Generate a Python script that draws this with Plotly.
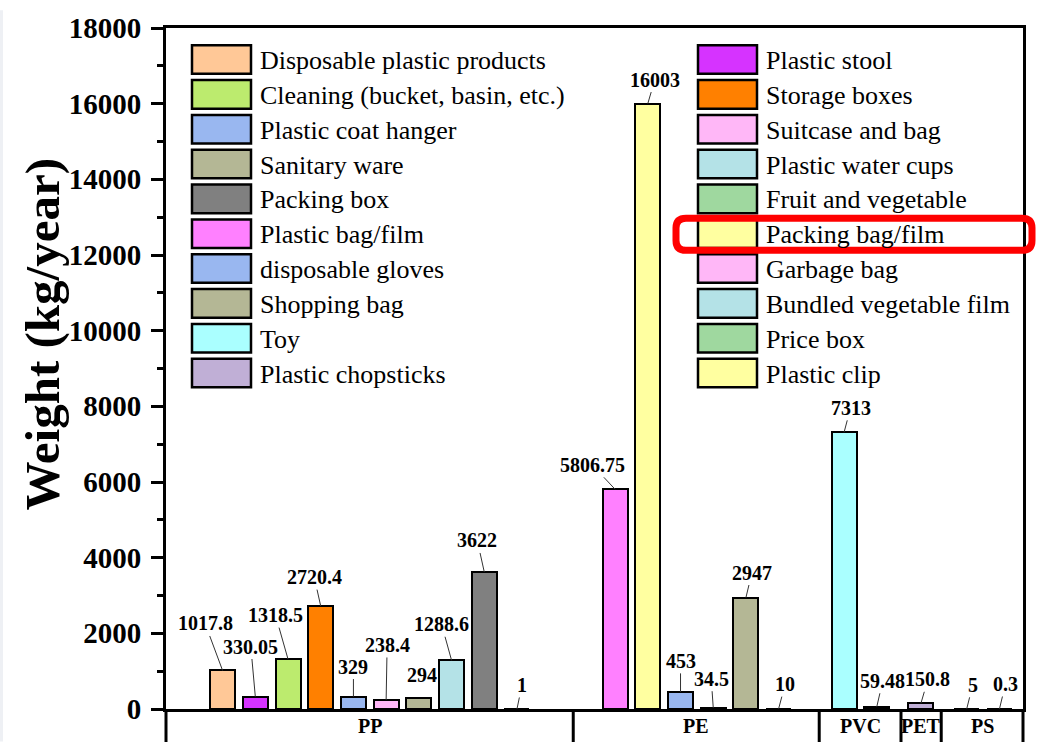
import plotly.graph_objects as go

# ---------------- data ----------------
categories = [
    "Disposable plastic products", "Plastic stool", "Cleaning (bucket, basin, etc.)",
    "Storage boxes", "Plastic coat hanger", "Suitcase and bag", "Sanitary ware",
    "Plastic water cups", "Packing box", "Fruit and vegetable",
    "Plastic bag/film", "Packing bag/film", "disposable gloves", "Garbage bag",
    "Shopping bag", "Bundled vegetable film",
    "Toy", "Price box",
    "Plastic chopsticks",
    "PS item", "Plastic clip",
]
groups = ["PP"] * 10 + ["PE"] * 6 + ["PVC"] * 2 + ["PET"] + ["PS"] * 2
weights = [1017.8, 330.05, 1318.5, 2720.4, 329, 238.4, 294, 1288.6, 3622, 1,
           5806.75, 16003, 453, 34.5, 2947, 10,
           7313, 59.48,
           150.8,
           5, 0.3]
group_names = ["PP", "PE", "PVC", "PET", "PS"]
legend_items = [c for c in categories if c != "PS item"]
y_ticks = list(range(0, 18001, 2000))
y_ticktext = [str(v) for v in y_ticks]

# ---------------- style / layout ----------------
colors = {
    "Disposable plastic products": "#FFC897",
    "Plastic stool": "#D633FF",
    "Cleaning (bucket, basin, etc.)": "#BCEB6E",
    "Storage boxes": "#FF8000",
    "Plastic coat hanger": "#99B7F0",
    "Suitcase and bag": "#FFB7F7",
    "Sanitary ware": "#B4B795",
    "Plastic water cups": "#B4E2E7",
    "Packing box": "#808080",
    "Fruit and vegetable": "#9FD89F",
    "Plastic bag/film": "#FF80FF",
    "Packing bag/film": "#FFFFA0",
    "disposable gloves": "#99B7F0",
    "Garbage bag": "#FFB7F7",
    "Shopping bag": "#B4B795",
    "Bundled vegetable film": "#B4E2E7",
    "Toy": "#AAFFFF",
    "Price box": "#9FD89F",
    "Plastic chopsticks": "#C0AFD6",
    "PS item": "#FFFFFF",
    "Plastic clip": "#FFFFA0",
}
# bar slot positions along the x axis
bar_pos = [0, 1, 2, 3, 4, 5, 6, 7, 8, 9,
           12, 13, 14, 15, 16, 17,
           19, 20,
           21.35,
           22.75, 23.75]
group_bounds = [-1.73, 10.72, 18.24, 20.74, 21.97, 24.47]
XMIN, XMAX = group_bounds[0], group_bounds[-1]
# value-label offsets (pixels) relative to bar top
label_offsets = [(-17.5, -47), (-4.5, -50), (-12.5, -44), (-6.5, -29), (0, -30),
                 (1, -55), (3, -23), (-10, -36), (-7, -31.5), (5, -24),
                 (-23, -24.5), (7, -24), (0, -31), (-2, -29), (6, -25), (6.5, -24.5),
                 (6.5, -24.5), (6, -26),
                 (7, -24),
                 (6, -24), (6, -25)]
no_leader = {6}

W, H = 1043, 742
L, R, T, B = 166, 1023, 18, 709
SERIF = "Liberation Serif"


def px(X):
    return (X - L) / (R - L)


def py(Y):
    return (B - Y) / (B - T)


def xpaper(v):
    return (v - XMIN) / (XMAX - XMIN)


fig = go.Figure()
fig.add_trace(go.Bar(
    x=bar_pos, y=weights, width=0.765,
    marker=dict(color=[colors[c] for c in categories],
                line=dict(color="black", width=2)),
    hovertext=categories, showlegend=False,
))

shapes = []
annotations = []

# value labels with leader lines
for xp, v, (ax, ay), i in zip(bar_pos, weights, label_offsets, range(len(weights))):
    annotations.append(dict(
        x=xp, y=v, xref="x", yref="y", text=f"{v:g}",
        showarrow=True, arrowhead=0, arrowwidth=1,
        arrowcolor="rgba(0,0,0,0)" if i in no_leader else "#333333",
        ax=ax, ay=ay, standoff=0,
        font=dict(family=SERIF, size=20, color="black", weight="bold"),
    ))

# group category band below the axis
for b in group_bounds:
    shapes.append(dict(type="line", xref="paper", yref="paper",
                       x0=xpaper(b), x1=xpaper(b), y0=0, y1=py(H + 5),
                       line=dict(color="black", width=3)))
for g, a, b in zip(group_names, group_bounds[:-1], group_bounds[1:]):
    annotations.append(dict(
        x=xpaper((a + b) / 2), y=py(726.5), xref="paper", yref="paper",
        text=g, showarrow=False, xanchor="center", yanchor="middle",
        font=dict(family=SERIF, size=20, color="black", weight="bold"),
    ))

# y axis title
annotations.append(dict(
    x=px(42), y=py(329), xref="paper", yref="paper", text="Weight (kg/year)",
    textangle=-90, showarrow=False, xanchor="center", yanchor="middle",
    font=dict(family=SERIF, size=49, color="black", weight="bold"),
))

# custom two-column legend (row-wise order)
row0, row_step = 50, 35.35
for i, name in enumerate(legend_items):
    r, c = divmod(i, 2)
    yc = row0 + r * row_step
    sx0 = 192 if c == 0 else 698
    shapes.append(dict(type="rect", xref="paper", yref="paper",
                       x0=px(sx0), x1=px(sx0 + 59), y0=py(yc + 14.5), y1=py(yc - 14.5),
                       fillcolor=colors[name], line=dict(color="black", width=2.5)))
    annotations.append(dict(
        x=px(sx0 + 66), y=py(yc + 1), xref="paper", yref="paper", text=name,
        showarrow=False, xanchor="left", yanchor="middle",
        font=dict(family=SERIF, size=26, color="black"),
    ))

# red rounded highlight rectangle
rx0, rx1, ry0, ry1, rad = 676, 1032, 211, 243.5, 10
def P(X, Y):
    return f"{px(X):.5f},{py(Y):.5f}"
path = (f"M {P(rx0 + rad, ry0)} L {P(rx1 - rad, ry0)} Q {P(rx1, ry0)} {P(rx1, ry0 + rad)} "
        f"L {P(rx1, ry1 - rad)} Q {P(rx1, ry1)} {P(rx1 - rad, ry1)} "
        f"L {P(rx0 + rad, ry1)} Q {P(rx0, ry1)} {P(rx0, ry1 - rad)} "
        f"L {P(rx0, ry0 + rad)} Q {P(rx0, ry0)} {P(rx0 + rad, ry0)} Z")
shapes.append(dict(type="path", xref="paper", yref="paper", path=path,
                   line=dict(color="#FF0000", width=7)))

# light page strip at left edge
shapes.append(dict(type="rect", xref="paper", yref="paper",
                   x0=px(0), x1=px(3), y0=py(H), y1=py(0),
                   fillcolor="#EEF0F4", line=dict(width=0), layer="below"))

fig.update_layout(
    width=W, height=H,
    margin=dict(l=L, r=W - R, t=T, b=H - B),
    paper_bgcolor="white", plot_bgcolor="white",
    shapes=shapes, annotations=annotations,
    bargap=0,
    xaxis=dict(range=[XMIN, XMAX], showticklabels=False, ticks="", showgrid=False,
               zeroline=False, showline=True, linewidth=3, linecolor="black", mirror=True),
    yaxis=dict(range=[0, 18000], tickvals=y_ticks, ticktext=y_ticktext,
               ticks="outside", ticklen=12,
               tickwidth=3, tickcolor="black", showgrid=False, zeroline=False,
               showline=True, linewidth=3, linecolor="black", mirror=True,
               ticklabelstandoff=4,
               tickfont=dict(family=SERIF, size=29, color="black", weight="bold"),
               minor=dict(dtick=1000, ticks="outside", ticklen=6, tickwidth=3,
                          tickcolor="black", showgrid=False)),
    hovermode=False,
)

fig.write_html("out.html", config={"displayModeBar": False},
               post_script="document.body.style.margin='0px';document.body.style.padding='0px';")
